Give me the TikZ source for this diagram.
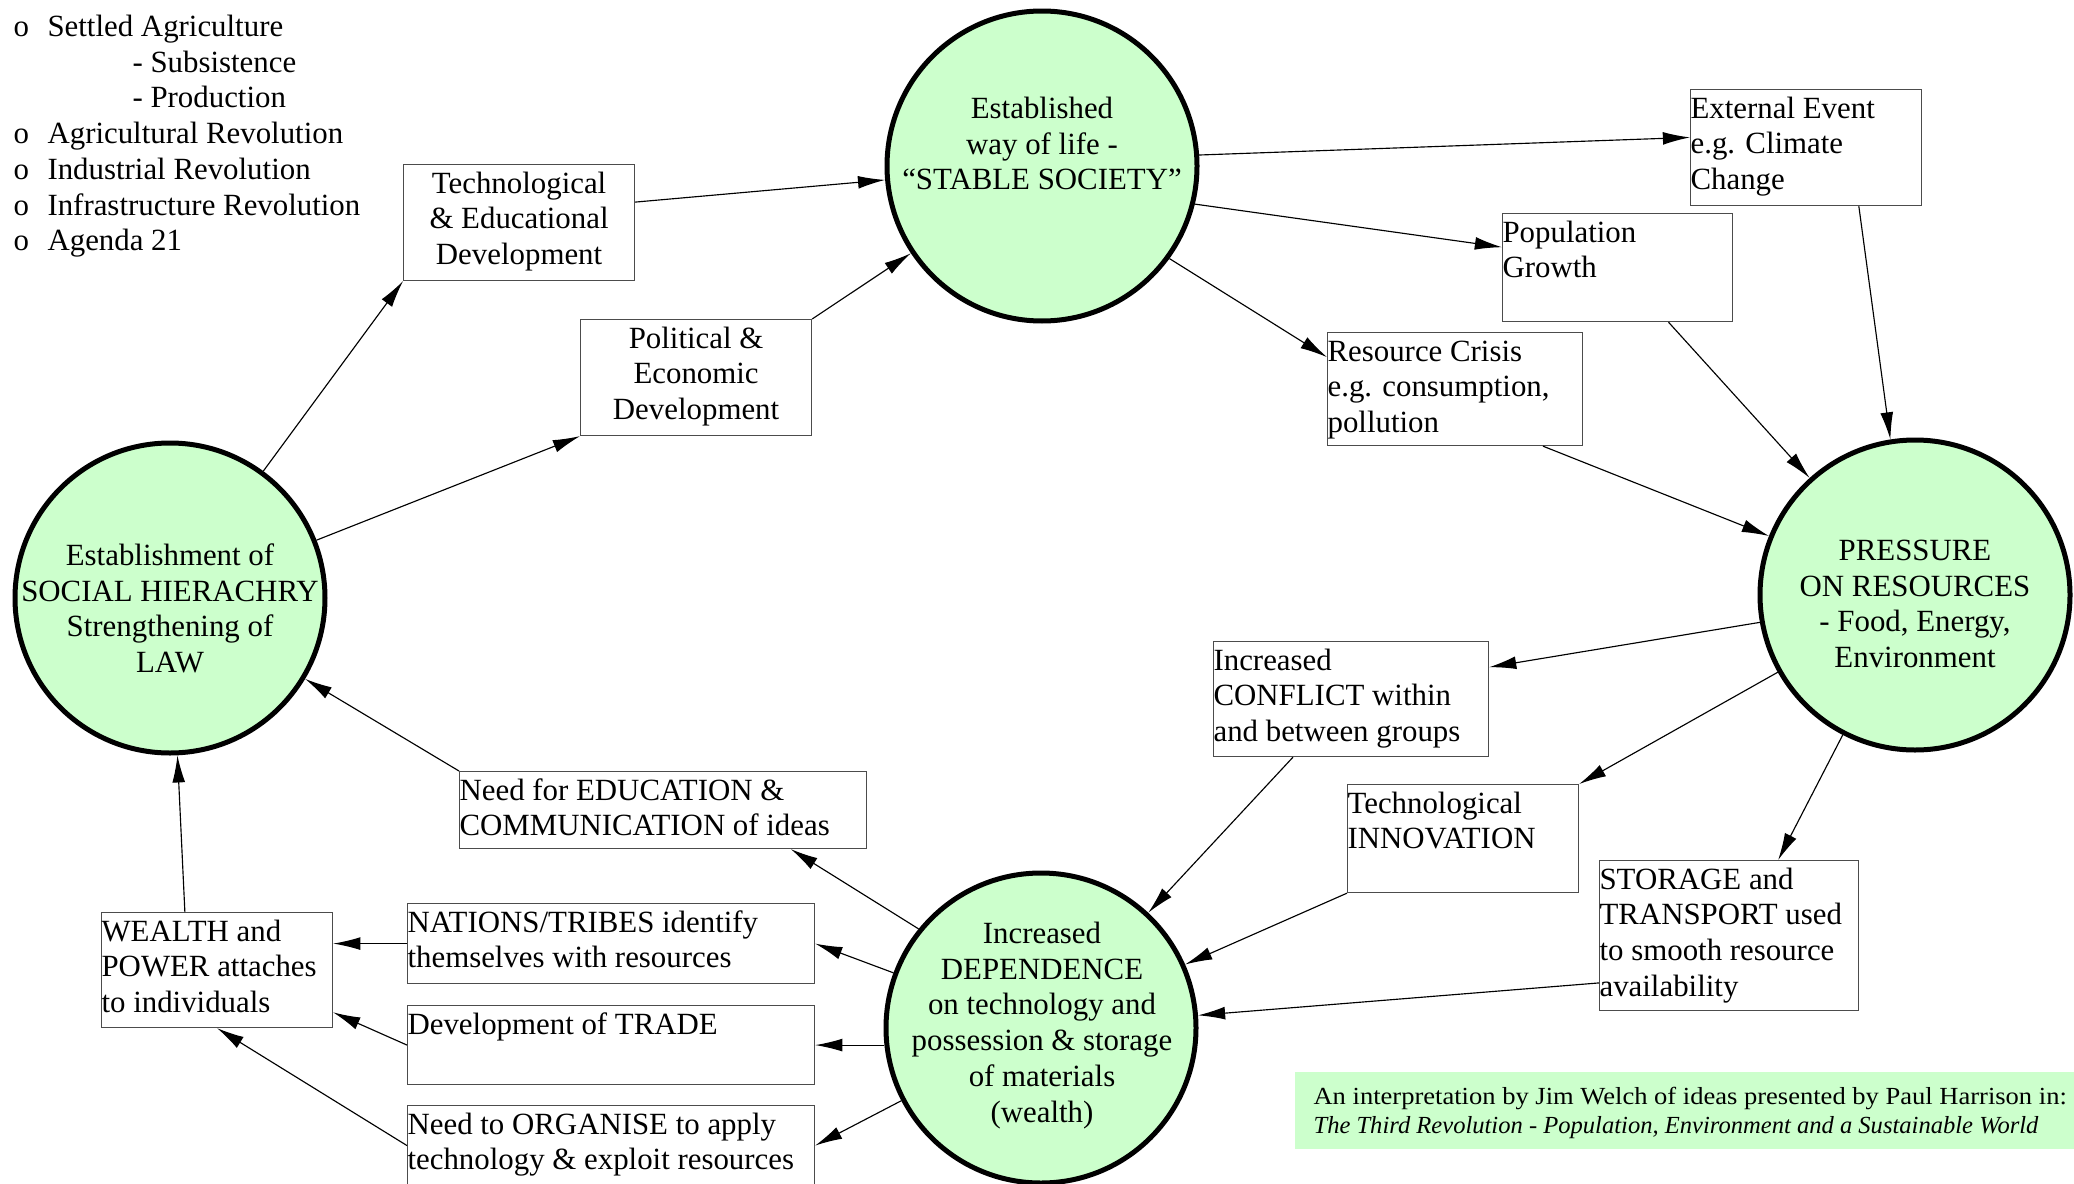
\documentclass[tikz,border=0pt]{standalone}
\usepackage{fontspec}
\setmainfont{Liberation Serif}
\usepackage{tikz}
\usetikzlibrary{arrows.meta}

\definecolor{hubgreen}{HTML}{CCFFCC}
\newdimen\unitpx \unitpx=0.35pt
% text block: alignment, width, height (in px), first baseline at a fixed depth
\newcommand{\cell}[4]{\parbox[c][#3\unitpx][t]{#2\unitpx}{#1\rule{0pt}{10pt}#4}}
\newcommand{\bul}{\makebox[34\unitpx][l]{o}}

\begin{document}
\begin{tikzpicture}[x=0.35pt, y=-0.35pt, >={Latex[length=9.5pt,width=4.5pt]},
  every node/.style={font=\fontsize{10.8}{12.5}\selectfont},
  hub/.style={circle, draw, line width=1.75pt, fill=hubgreen, minimum size=108.5pt, inner sep=0pt},
  hubtext/.style={anchor=north, inner sep=0pt},
  card/.style={draw=black!70, line width=0.4pt, inner sep=0pt, anchor=north west},
  credit/.style={fill=hubgreen, inner sep=0pt, anchor=north west},
  link/.style={->, line width=0.4pt}]
  \useasboundingbox (0,0) rectangle (2074,1183);

  % list of stages
  \node[anchor=north west, inner sep=0pt] (eras) at (13,7.4) {\parbox[t]{420\unitpx}{\raggedright\rule{0pt}{10pt}%
    \bul Settled Agriculture\\\hspace*{119\unitpx}- Subsistence\\\hspace*{119\unitpx}- Production\\
    \bul Agricultural Revolution\\\bul Industrial Revolution\\\bul Infrastructure Revolution\\\bul Agenda 21}};

  % the four stages of the cycle
  \node[hub] (S) at (1042,166) {};
  \node[hub] (P) at (1915,595) {};
  \node[hub] (D) at (1041,1028) {};
  \node[hub] (H) at (170,598) {};
  \node[hubtext] (Stext) at (1042,89.4) {\cell{\centering}{330}{120}{Established\\way of life -\\``STABLE SOCIETY''}};
  \node[hubtext] (Ptext) at (1915,531.4) {\cell{\centering}{330}{150}{PRESSURE\\ON RESOURCES\\- Food, Energy,\\Environment}};
  \node[hubtext] (Dtext) at (1042,914.4) {\cell{\centering}{330}{220}{Increased\\DEPENDENCE\\on technology and\\possession \& storage\\of materials\\(wealth)}};
  \node[hubtext] (Htext) at (170,536.4) {\cell{\centering}{330}{150}{Establishment of\\SOCIAL HIERACHRY\\Strengthening of\\LAW}};

  % boxes
  \node[card] (teched) at (403,164) {\cell{\centering}{231}{116}{Technological\\\& Educational\\Development}};
  \node[card] (poleco) at (580,319) {\cell{\centering}{231}{116}{Political \&\\Economic\\Development}};
  \node[card] (external) at (1690,89) {\cell{\raggedright}{231}{116}{External Event\\e.g. Climate\\Change}};
  \node[card] (pop) at (1502,213) {\cell{\raggedright}{230}{108}{Population\\Growth}};
  \node[card] (crisis) at (1327,332) {\cell{\raggedright}{255}{113}{Resource Crisis\\e.g. consumption,\\pollution}};
  \node[card] (conflict) at (1213,641) {\cell{\raggedright}{275}{115}{Increased\\CONFLICT within\\and between groups}};
  \node[card] (innov) at (1347,784) {\cell{\raggedright}{231}{108}{Technological\\INNOVATION}};
  \node[card] (storage) at (1599,860) {\cell{\raggedright}{259}{150}{STORAGE and\\TRANSPORT used\\to smooth resource\\availability}};
  \node[card] (edu) at (459,771) {\cell{\raggedright}{407}{77}{Need for EDUCATION \&\\COMMUNICATION of ideas}};
  \node[card] (nations) at (407,903) {\cell{\raggedright}{407}{80}{NATIONS/TRIBES identify\\themselves with resources}};
  \node[card] (trade) at (407,1005) {\cell{\raggedright}{407}{79}{Development of TRADE}};
  \node[card] (organise) at (407,1105) {\cell{\raggedright}{407}{80}{Need to ORGANISE to apply\\technology \& exploit resources}};
  \node[card] (wealth) at (101,912) {\cell{\raggedright}{231}{115}{WEALTH and\\POWER attaches\\to individuals}};

  \node[credit] (source) at (1294,1071) {\parbox[c][77\unitpx][t]{780\unitpx}{\fontsize{8.6}{10.2}\selectfont\leftskip=19\unitpx
    \rule{0pt}{33\unitpx}\scalebox{1.08}[1]{An interpretation by Jim Welch of ideas presented by Paul Harrison in:}\\
    \textit{The Third Revolution - Population, Environment and a Sustainable World}}};

  % connectors
  \draw[link] (H) -- (teched.south west);
  \draw[link] (H) -- (poleco.south west);
  \draw[link] (teched.10) -- (S);
  \draw[link] (poleco.north east) -- (S);
  \draw[link] (S.4) -- (external.175);
  \draw[link] (S.-14) -- (pop.170);
  \draw[link] (S.-36) -- (crisis.166);
  \draw[link] (external.-48) -- (P.99);
  \draw[link] (pop.-47) -- (P.132);
  \draw[link] (crisis.-33) -- (P.158);
  \draw[link] (P.190) -- (conflict.13);
  \draw[link] (P) -- (innov.north east);
  \draw[link] (P) -- (storage.57);
  \draw[link] (conflict.-135) -- (D);
  \draw[link] (innov.south west) -- (D);
  \draw[link] (storage.200) -- (D);
  \draw[link] (D.141) -- (edu.-17);
  \draw[link] (D) -- (nations.east);
  \draw[link] (D.west |- trade.east) -- (trade.east);
  \draw[link] (D) -- (organise.east);
  \draw[link] (nations.west) -- (wealth.east |- nations.west);
  \draw[link] (trade.west) -- (wealth.-20);
  \draw[link] (organise.west) -- (wealth.south);
  \draw[link] (wealth.119) -- (H);
  \draw[link] (edu.north west) -- (H);
\end{tikzpicture}
\end{document}
